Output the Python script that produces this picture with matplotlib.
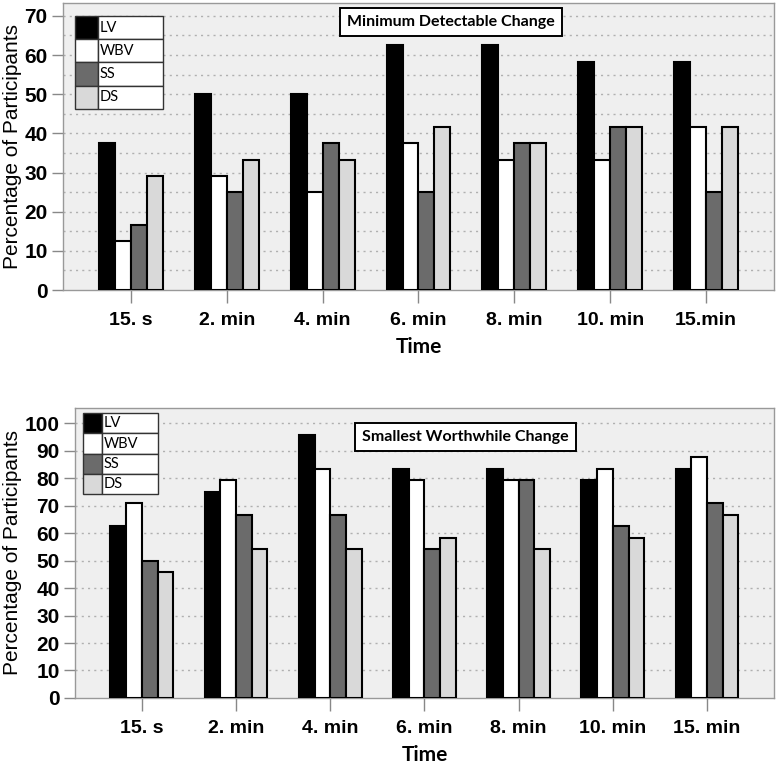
import numpy as np
import matplotlib
matplotlib.use('Agg')
import matplotlib.pyplot as plt

# data
series = ['LV', 'WBV', 'SS', 'DS']
colors = ['#000000', '#ffffff', '#6b6b6b', '#d9d9d9']

times_mdc = ['15. s', '2. min', '4. min', '6. min', '8. min', '10. min', '15.min']
lv_mdc = [37.5, 50.0, 50.0, 62.5, 62.5, 58.3, 58.3]
wbv_mdc = [12.5, 29.2, 25.0, 37.5, 33.3, 33.3, 41.7]
ss_mdc = [16.7, 25.0, 37.5, 25.0, 37.5, 41.7, 25.0]
ds_mdc = [29.2, 33.3, 33.3, 41.7, 37.5, 41.7, 41.7]

times_swc = ['15. s', '2. min', '4. min', '6. min', '8. min', '10. min', '15. min']
lv_swc = [62.5, 75.0, 95.8, 83.3, 83.3, 79.2, 83.3]
wbv_swc = [70.8, 79.2, 83.3, 79.2, 79.2, 83.3, 87.5]
ss_swc = [50.0, 66.7, 66.7, 54.2, 79.2, 62.5, 70.8]
ds_swc = [45.8, 54.2, 54.2, 58.3, 54.2, 58.3, 66.7]

BOLD = 'Liberation Sans'
CAL = 'Lato'


def draw_panel(ax, labels, values, title, ymax, ytick_step, grid_step,
               legend_box, title_xy):
    x = np.arange(len(labels))
    w = 1 / 6
    offsets = [-1.5 * w, -0.5 * w, 0.5 * w, 1.5 * w]
    ax.set_facecolor('#efefef')
    ax.set_axisbelow(True)
    for vals, c, off in zip(values, colors, offsets):
        ax.bar(x + off, vals, width=w, color=c, edgecolor='black', linewidth=1.5, zorder=3)

    ax.set_xlim(-0.71, len(labels) - 0.29)
    ax.set_ylim(0, ymax)
    ax.set_yticks(np.arange(0, ymax, ytick_step))
    for g in np.arange(grid_step, ymax, grid_step):
        ax.axhline(g, color='#b0b0b0', linestyle=(0, (1.5, 3)), linewidth=1, zorder=1)

    ax.set_xticks(x)
    ax.set_xticklabels(labels, fontfamily=BOLD, fontweight='bold', fontsize=14)
    for lab in ax.get_yticklabels():
        lab.set_fontfamily(BOLD)
        lab.set_fontweight('bold')
        lab.set_fontsize(15)
    ax.tick_params(axis='x', length=9.5, width=1, color='#888888', pad=6)
    ax.tick_params(axis='y', length=8, width=1, color='#888888', pad=3)
    for s in ax.spines.values():
        s.set_color('#999999')
        s.set_linewidth(1)

    ax.set_ylabel('Percentage of Participants', fontfamily=BOLD, fontsize=15, labelpad=2)
    ax.set_xlabel('Time', fontfamily=CAL, fontweight='bold', fontsize=15, labelpad=6)

    # table-style legend
    tbl = ax.table(cellText=[['', s] for s in series],
                   cellColours=[[c, 'white'] for c in colors],
                   colWidths=[0.26, 0.74], cellLoc='left',
                   bbox=legend_box, zorder=5)
    tbl.auto_set_font_size(False)
    tbl.set_fontsize(10.5)
    for cell in tbl.get_celld().values():
        cell.set_edgecolor('#333333')
        cell.set_linewidth(1)
        cell.PAD = 0.03
        cell.get_text().set_fontfamily(CAL)

    ax.text(title_xy[0], title_xy[1], title, transform=ax.transAxes,
            ha='center', va='center', fontfamily=CAL, fontweight='bold', fontsize=11.5,
            bbox=dict(boxstyle='square,pad=0.45', facecolor='white', edgecolor='black', linewidth=1.4),
            zorder=6)


fig = plt.figure(figsize=(7.76, 7.65), dpi=100)
ax1 = fig.add_axes([0.0812, 0.6209, 0.9162, 0.3752])
ax2 = fig.add_axes([0.0966, 0.0876, 0.9008, 0.3791])

draw_panel(ax1, times_mdc, [lv_mdc, wbv_mdc, ss_mdc, ds_mdc],
           'Minimum Detectable Change', 73.3, 10, 5,
           [0.0169, 0.6307, 0.1238, 0.324], (0.546, 0.934))
draw_panel(ax2, times_swc, [lv_swc, wbv_swc, ss_swc, ds_swc],
           'Smallest Worthwhile Change', 105.5, 10, 10,
           [0.0114, 0.703, 0.107, 0.279], (0.558, 0.90))

fig.savefig('out.png', dpi=100)
